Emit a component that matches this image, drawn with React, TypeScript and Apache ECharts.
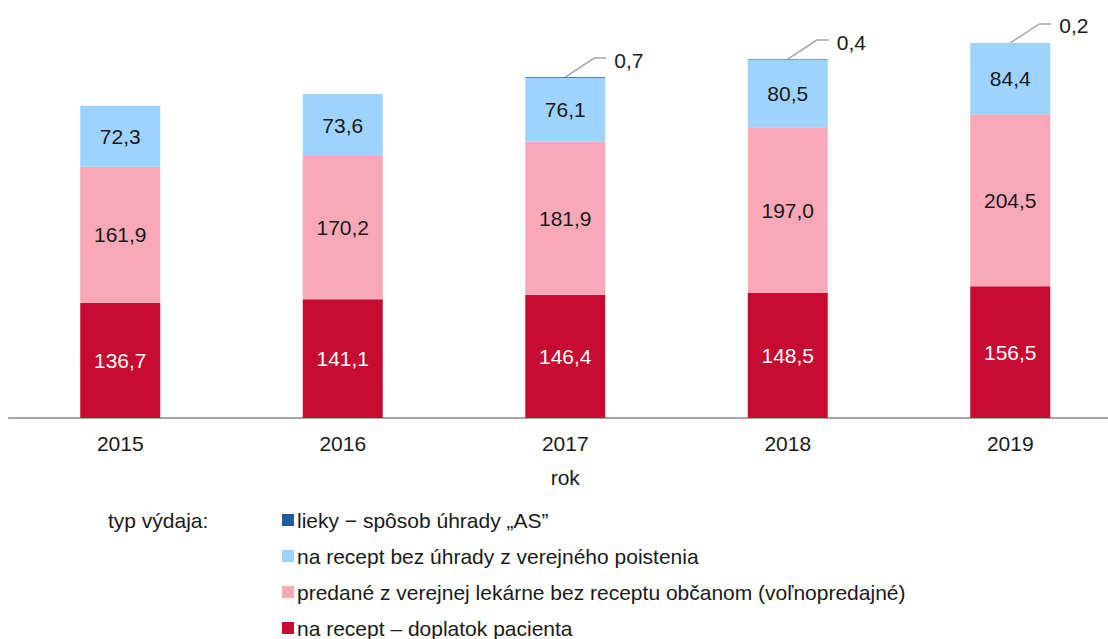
import React, { useEffect, useRef } from "react";
import * as echarts from "echarts";

const years = ["2015", "2016", "2017", "2018", "2019"];
const doplatokPacienta = [136.7, 141.1, 146.4, 148.5, 156.5];
const volnopredajne = [161.9, 170.2, 181.9, 197.0, 204.5];
const bezUhrady = [72.3, 73.6, 76.1, 80.5, 84.4];
const liekyAS: (number | null)[] = [null, null, 0.7, 0.4, 0.2];

const seriesNames = [
  "na recept – doplatok pacienta",
  "predané z verejnej lekárne bez receptu občanom (voľnopredajné)",
  "na recept bez úhrady z verejného poistenia",
  "lieky − spôsob úhrady „AS”",
];
const legendOrder = [seriesNames[3], seriesNames[2], seriesNames[1], seriesNames[0]];
const colors = ["#C60C30", "#F9A8B7", "#9DD3FC", "#1F5C99"];

const FONT = "'Liberation Sans', Arial, sans-serif";
const FS = 21;
const fmt = (v: number) => v.toFixed(1).replace(".", ",");

export default function App() {
  const ref = useRef<HTMLDivElement>(null);
  useEffect(() => {
    if (!ref.current) return;
    const chart = echarts.init(ref.current, null, { renderer: "svg" });
    const seriesData = [doplatokPacienta, volnopredajne, bezUhrady, liekyAS];
    const option: any = {
      animation: false,
      textStyle: { fontFamily: FONT },
      grid: { left: 9, top: 14, width: 1112.5, height: 404, containLabel: false },
      xAxis: {
        type: "category",
        data: years,
        axisLine: { lineStyle: { color: "#A6A6A6", width: 2 } },
        axisTick: { show: false },
        axisLabel: { fontSize: FS, color: "#1a1a1a", margin: 15, fontFamily: FONT },
        name: "rok",
        nameLocation: "middle",
        nameGap: 49,
        nameTextStyle: { fontSize: FS, color: "#1a1a1a", fontFamily: FONT },
      },
      yAxis: { type: "value", min: 0, max: 480, show: false, splitLine: { show: false } },
      legend: {
        orient: "vertical",
        left: 282,
        top: 508,
        padding: 0,
        itemGap: 12,
        itemWidth: 12,
        itemHeight: 12,
        icon: "rect",
        data: legendOrder,
        textStyle: { fontSize: FS, color: "#1a1a1a", fontFamily: FONT, lineHeight: 24, padding: [0, 0, 0, -2] },
        selectedMode: false,
      },
      series: seriesData.map((d, i) => ({
        name: seriesNames[i],
        type: "bar",
        stack: "total",
        barWidth: 80,
        data: d,
        itemStyle: { color: colors[i] },
        label: {
          show: i < 3,
          position: "inside",
          fontSize: FS,
          fontFamily: FONT,
          color: i === 0 ? "#ffffff" : "#1a1a1a",
          formatter: (p: any) => fmt(p.value),
        },
      })),
    };
    chart.setOption(option);

    const graphics: any[] = [
      {
        type: "text",
        left: 108,
        top: 508,
        style: { text: "typ výdaja:", fontSize: FS, fill: "#1a1a1a", fontFamily: FONT, lineHeight: 24 },
      },
    ];
    years.forEach((y, i) => {
      const v = liekyAS[i];
      if (v == null) return;
      const total = doplatokPacienta[i] + volnopredajne[i] + bezUhrady[i] + v;
      const p = chart.convertToPixel({ gridIndex: 0 }, [y, total]);
      const sx = p[0];
      const sy = p[1];
      const bx = sx + 29;
      const by = sy - 19;
      graphics.push({
        type: "polyline",
        shape: { points: [[sx, sy], [bx, by], [bx + 12, by]] },
        style: { stroke: "#A6A6A6", lineWidth: 1.5, fill: null },
        silent: true,
      });
      graphics.push({
        type: "text",
        x: bx + 20,
        y: by + 2,
        style: {
          text: fmt(v),
          fontSize: FS,
          fill: "#1a1a1a",
          fontFamily: FONT,
          verticalAlign: "middle",
          align: "left",
        },
      });
    });
    chart.setOption({ graphic: graphics });
    return () => chart.dispose();
  }, []);
  return (
    <div style={{ position: "absolute", left: 0, top: 0, width: 1108, height: 639, overflow: "hidden" }}>
      <div ref={ref} style={{ position: "absolute", left: 0, top: 0, width: 1130, height: 680 }} />
    </div>
  );
}
